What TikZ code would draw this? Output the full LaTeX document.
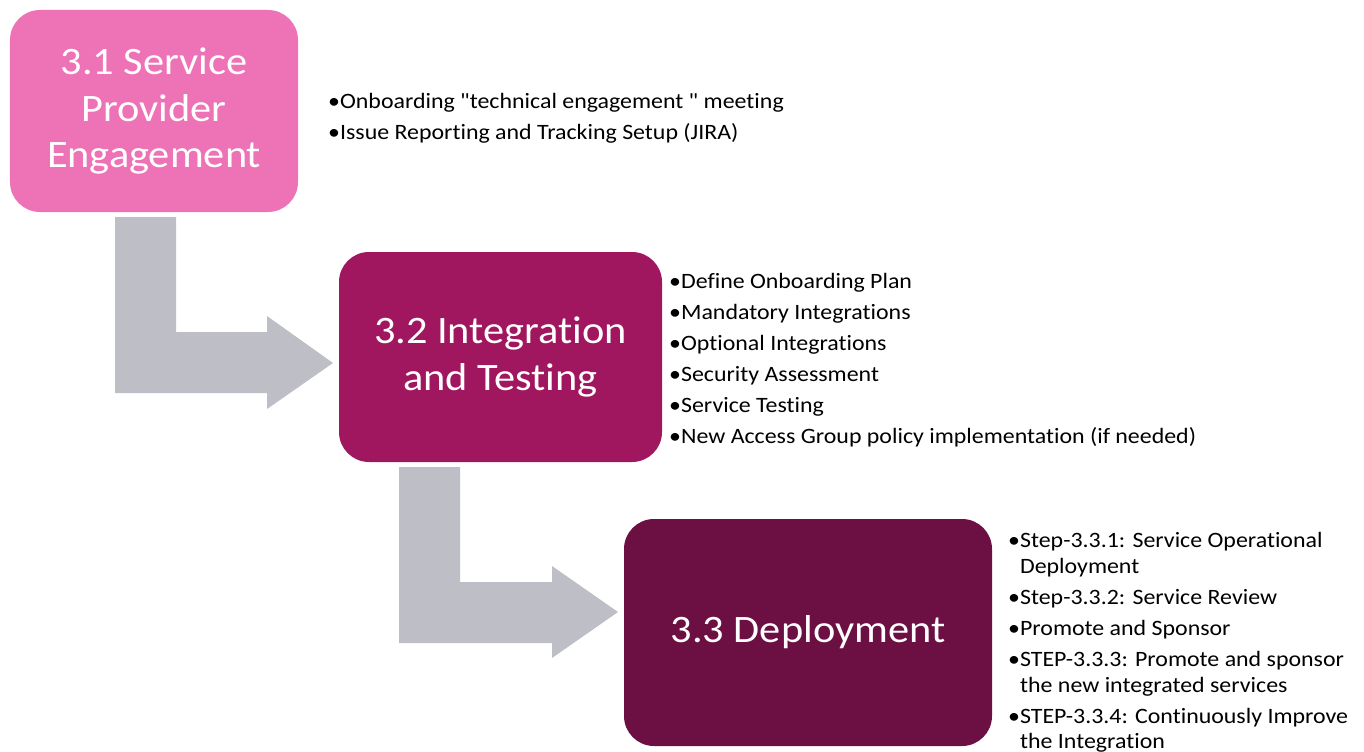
\documentclass[tikz,border=0pt]{standalone}
\usepackage{fontspec}
\setmainfont[FakeStretch=1.09, Ligatures={NoCommon,TeXOff}]{Carlito}
\definecolor{pinkA}{HTML}{EE72B6}
\definecolor{magB}{HTML}{A01760}
\definecolor{plumC}{HTML}{6C0F42}
\definecolor{grayArrow}{HTML}{BDBEC6}
\begin{document}
\begin{tikzpicture}[x=1bp,y=-1bp,
  stagebox/.style={rounded corners=30bp, inner sep=0pt, text=white, align=center,
    font=\fontsize{39}{47}\selectfont},
  bul/.style={anchor=base west, inner sep=0pt, font=\fontsize{22}{26}\selectfont, text=black},
  blockarrow/.style={fill=grayArrow, draw=none}]
\useasboundingbox (0,0) rectangle (1364,751);
\clip (0,0) rectangle (1364,751);

% stage boxes
\node[stagebox, fill=pinkA, minimum width=288bp, minimum height=202bp] (s1) at (154,111)
  {3.1 Service\\Provider\\Engagement};
\node[stagebox, fill=magB, minimum width=323bp, minimum height=210bp] (s2) at (500.5,357)
  {3.2 Integration\\and Testing};
\node[stagebox, fill=plumC, minimum width=368bp, minimum height=227bp] (s3) at (808,632.5)
  {3.3 Deployment};

% block arrows
\coordinate (a1s) at (115,217);
\coordinate (a1t) at (333,363);
\fill[blockarrow] (a1s) -- ++(61,0) -- ++(0,115) -- ++(91,0) -- ++(0,-16) -- (a1t)
  -- (267,409) -- (267,393) -- (115,393) -- cycle;
\coordinate (a2s) at (399,467);
\coordinate (a2t) at (618,612);
\fill[blockarrow] (a2s) -- ++(61,0) -- ++(0,115) -- ++(92,0) -- ++(0,-16) -- (a2t)
  -- (552,658) -- (552,643) -- (399,643) -- cycle;

% bullets stage 1
\node[bul] (t11) at (328,108) {•Onboarding "technical engagement " meeting};
\node[bul] (t12) at (328,139) {•Issue Reporting and Tracking Setup (JIRA)};

% bullets stage 2
\node[bul] (t21) at (669,288) {•Define Onboarding Plan};
\node[bul] (t22) at (669,319) {•Mandatory Integrations};
\node[bul] (t23) at (669,350) {•Optional Integrations};
\node[bul] (t24) at (669,381) {•Security Assessment};
\node[bul] (t25) at (669,412) {•Service Testing};
\node[bul] (t26) at (669,443) {•New Access Group policy implementation (if needed)};

% bullets stage 3
\node[bul] (t31) at (1008,547) {•Step-3.3.1: Service Operational};
\node[bul] (t31b) at (1008,573) {\phantom{•}Deployment};
\node[bul] (t32) at (1008,604) {•Step-3.3.2: Service Review};
\node[bul] (t33) at (1008,635) {•Promote and Sponsor};
\node[bul] (t34) at (1008,666) {•STEP-3.3.3: Promote and sponsor};
\node[bul] (t34b) at (1008,692) {\phantom{•}the new integrated services};
\node[bul] (t35) at (1008,723) {•STEP-3.3.4: Continuously Improve};
\node[bul] (t35b) at (1008,748) {\phantom{•}the Integration};
\end{tikzpicture}
\end{document}
